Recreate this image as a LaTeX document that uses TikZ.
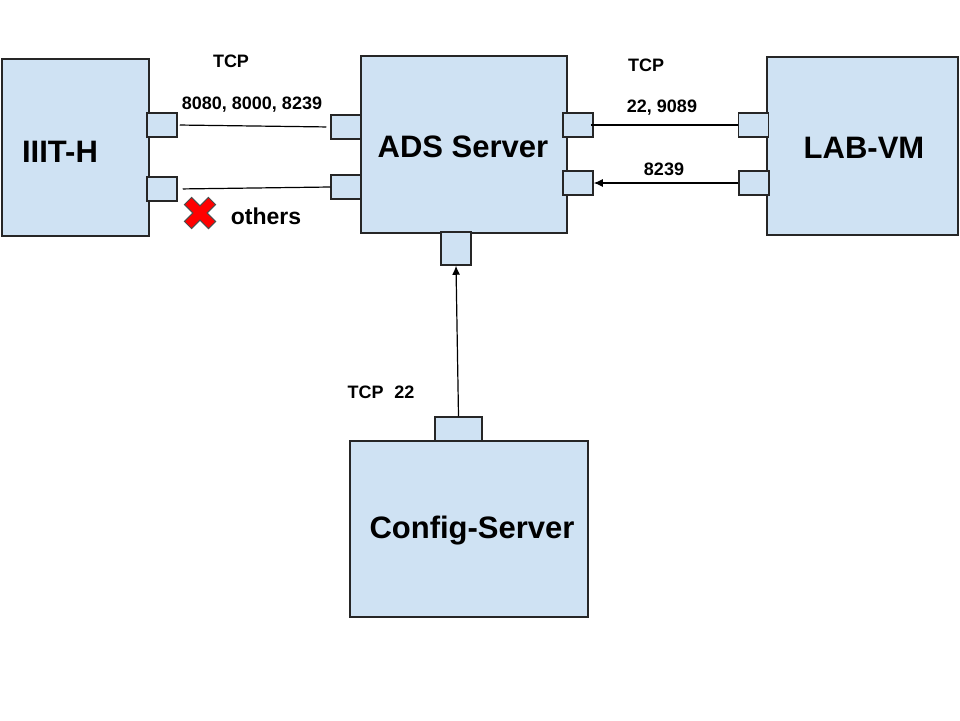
\documentclass[tikz,border=0pt]{standalone}
\usepackage{fontspec}
\setmainfont{Liberation Sans}
\usetikzlibrary{arrows.meta,calc}
\definecolor{boxfill}{HTML}{CFE2F3}
\definecolor{xred}{HTML}{FF0000}
\begin{document}
\begin{tikzpicture}[x=1pt,y=-1pt,
  box/.style={draw=black!85, line width=1.5pt, fill=boxfill, inner sep=0pt, anchor=center},
  port/.style={draw=black!85, line width=1.5pt, fill=boxfill, inner sep=0pt, minimum width=30pt, minimum height=24pt},
  big/.style={font=\fontsize{31}{36}\selectfont\bfseries, inner sep=0pt},
  small/.style={font=\fontsize{18}{21}\selectfont\bfseries, inner sep=0pt},
  link/.style={line width=1.2pt, black}
]
\useasboundingbox (0,0) rectangle (960,720);
% main boxes
\node[box, minimum width=147pt, minimum height=177pt] (iiith) at (75.5,147.5) {};
\node[box, minimum width=206pt, minimum height=177pt] (ads) at (464,144.5) {};
\node[box, minimum width=191pt, minimum height=178pt] (labvm) at (862.5,146) {};
\node[box, minimum width=238pt, minimum height=176pt] (config) at (469,529) {};
% ports
\node[port] (p1) at (162,125) {};
\node[port] (p2) at (162,189) {};
\node[port] (a1) at (346,127) {};
\node[port] (a2) at (346,187) {};
\node[port] (a3) at (578,125) {};
\node[port] (a4) at (578,183) {};
\node[port] (l1) at (753.5,125) {};
\node[port] (l2) at (754,183) {};
\node[port, minimum height=33pt] (a5) at (456,248.5) {};
\node[port, minimum width=47pt] (c1) at (458.5,429) {};
% box labels
\node[big] (t1) at (60,152) {IIIT-H};
\node[big] (t2) at (463,147) {ADS Server};
\node[big] (t3) at (864,148) {LAB-VM};
\node[big] (t4) at (472,531) {Config-Server};
% small labels
\node[small] (s1) at (231,61) {TCP};
\node[small] (s2) at (252,105) {8080, 8000, 8239};
\node[small, font=\fontsize{23}{27}\selectfont\bfseries] (s3) at (266,216) {others};
\node[small] (s4) at (646,65) {TCP};
\node[small] (s5) at (662,108) {22, 9089};
\node[small] (s6) at (664,169) {8239};
\node[small] (s7) at (381,392) {TCP\hspace{0.6em}22};
% connectors
\draw[link, shorten <=2pt, shorten >=4pt] (p1.east) -- (a1.west);
\draw[link, shorten <=5pt] (p2.east) -- (a2.west);
\draw[link, shorten <=-3pt] (a3.east) -- (l1.west);
\draw[link, -{Latex[length=9pt,width=8pt]}] (l2.west) -- (a4.east);
\draw[link, -{Latex[length=9pt,width=8pt]}] (c1.north) -- (a5.south);
% red cross
\coordinate (xc) at (200,213);
\draw[fill=xred, draw=black!70, line width=1pt, rotate around={45:(xc)}]
  ($(xc)+(-5,-17)$) -- ++(10,0) -- ++(0,12) -- ++(12,0) -- ++(0,10) -- ++(-12,0)
  -- ++(0,12) -- ++(-10,0) -- ++(0,-12) -- ++(-12,0) -- ++(0,-10) -- ++(12,0) -- cycle;
\end{tikzpicture}
\end{document}
